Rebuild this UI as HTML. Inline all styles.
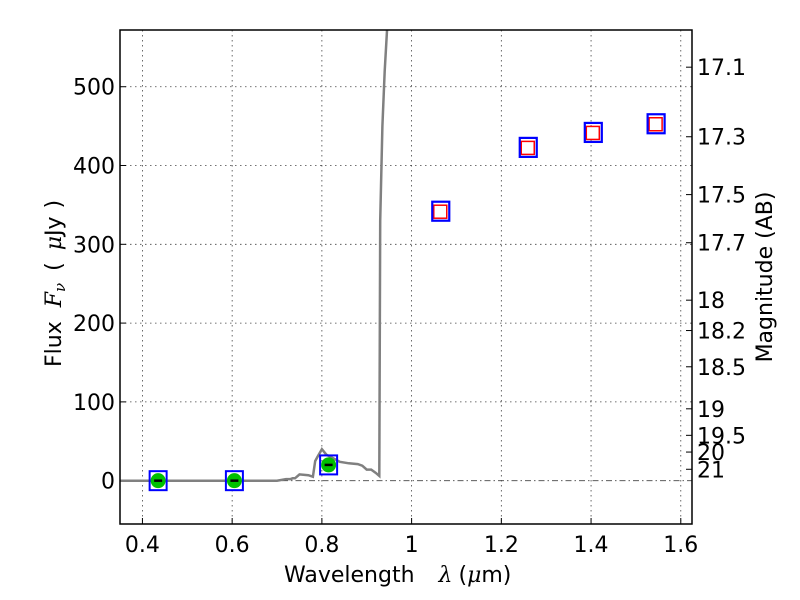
<!DOCTYPE html>
<html><head><meta charset="utf-8"><style>
html,body{margin:0;padding:0;background:#fff;}
svg{display:block;font-family:"DejaVu Sans","Liberation Sans",sans-serif;}
</style></head><body>
<svg id="chart" width="800" height="600"></svg>
<script>
const xTicks=[0.4,0.6,0.8,1.0,1.2,1.4,1.6];
const xTickLabels=["0.4","0.6","0.8","1","1.2","1.4","1.6"];
const yTicks=[0,100,200,300,400,500];
const magTicks=[17.1,17.3,17.5,17.7,18,18.2,18.5,19,19.5,20,21];
const specWave=[0.35,0.70,0.72,0.73,0.735,0.74,0.75,0.77,0.78,0.785,0.79,0.80,0.81,0.82,0.84,0.86,0.88,0.89,0.90,0.91,0.92,0.928,0.930,0.935,0.940,0.946];
const specFlux=[0,0,2,2,3,3,8,7,5,25,30,40,33,30,24,22,21,19,14,14,10,6,330,450,520,580];
const upperWave=[1.065,1.26,1.405,1.545];
const upperFlux=[342,423,442,453];
const lowWave=[0.435,0.605,0.815];
const lowFlux=[0,0,20];

const L=120,R=692,T=30,B=524,XMIN=0.35,XMAX=1.625,YMIN=-55,YMAX=572;
const sx=v=>L+(v-XMIN)/(XMAX-XMIN)*(R-L);
const sy=v=>B-(v-YMIN)/(YMAX-YMIN)*(B-T);
const NS="http://www.w3.org/2000/svg";
const svg=document.getElementById('chart');
function mk(tag,attrs,parent){const e=document.createElementNS(NS,tag);for(const k in attrs)e.setAttribute(k,attrs[k]);(parent||svg).appendChild(e);return e;}
const defs=mk('defs',{});const cp=mk('clipPath',{id:'clip'},defs);mk('rect',{x:L,y:T,width:R-L,height:B-T},cp);

xTicks.forEach((v,i)=>{
  const g=mk('line',{x1:sx(v),x2:sx(v),y1:T,y2:B,stroke:'#444','stroke-width':0.8,'stroke-dasharray':'1.5,3.5'});
  
  
  const tk=mk('line',{x1:sx(v),x2:sx(v),y1:B,y2:B-6,stroke:'#000'});
  
  
  const tt=mk('text',{x:sx(v),y:B+28,'font-size':22,'text-anchor':'middle'});tt.textContent=xTickLabels[i];
  
  
});
yTicks.forEach(v=>{
  const g=mk('line',{x1:L,x2:R,y1:sy(v),y2:sy(v),stroke:'#444','stroke-width':0.8,'stroke-dasharray':v===0?'6,3,1.5,3':'1.5,3.5'});
  
  
  const tk=mk('line',{x1:L,x2:L+6,y1:sy(v),y2:sy(v),stroke:'#000'});
  
  
  const tt=mk('text',{x:L-5,y:sy(v)+8,'font-size':22,'text-anchor':'end'});tt.textContent=String(v);
  
  
});
magTicks.forEach(m=>{
  const f=Math.pow(10,(23.9-m)/2.5);const y=sy(f);
  const tk=mk('line',{x1:R,x2:R-6,y1:y,y2:y,stroke:'#000'});
  
  
  const tt=mk('text',{x:R+5,y:y+8,'font-size':22});tt.textContent=String(m);
  
  
});

const pts=specWave.map((w,i)=>sx(w).toFixed(1)+','+sy(specFlux[i]).toFixed(1)).join(' ');
const sp=mk('polyline',{points:pts,fill:'none',stroke:'#808080','stroke-width':2.5,'clip-path':'url(#clip)'});



lowWave.forEach((w,i)=>{
  const x=sx(w),y=sy(lowFlux[i]);
  const g=mk('g',{});
  
  
  mk('circle',{cx:x,cy:y,r:7.5,fill:'#00c000'},g);
  mk('line',{x1:x-4,x2:x+4,y1:y,y2:y,stroke:'#000','stroke-width':2.5},g);
  mk('rect',{x:x-8.5,y:y-9.5,width:17,height:19,fill:'none',stroke:'#0000ff','stroke-width':2},g);
});
upperWave.forEach((w,i)=>{
  const x=sx(w),y=sy(upperFlux[i]);
  const g=mk('g',{});
  
  
  mk('rect',{x:x-7,y:y-6,width:13,height:13,fill:'#fff',stroke:'#ff0000','stroke-width':1.5},g);
  mk('rect',{x:x-8.5,y:y-9.5,width:17,height:19,fill:'none',stroke:'#0000ff','stroke-width':2.2},g);
});

const fr=mk('rect',{x:L,y:T,width:R-L,height:B-T,fill:'none',stroke:'#000','stroke-width':1.5});



const xl=mk('text',{x:284,y:582,'font-size':22});
xl.innerHTML='Wavelength<tspan dx="24" font-family="DejaVu Serif,serif" font-style="italic">λ</tspan><tspan dx="6">(</tspan><tspan font-family="DejaVu Serif,serif" font-style="italic">μ</tspan>m)';


const yl=mk('text',{x:0,y:0,'font-size':22,transform:'translate(61,367) rotate(-90)'});
yl.innerHTML='Flux<tspan dx="14" font-family="DejaVu Serif,serif" font-style="italic">F</tspan><tspan font-family="DejaVu Serif,serif" font-style="italic" font-size="15" dy="4">ν</tspan><tspan dy="-4" dx="12">(</tspan><tspan dx="12" font-family="DejaVu Serif,serif" font-style="italic">μ</tspan>Jy<tspan dx="8">)</tspan>';


const rl=mk('text',{x:0,y:0,'font-size':22,'text-anchor':'middle',transform:'translate(772,277) rotate(-90)'});
rl.textContent='Magnitude (AB)';


</script>
</body></html>
